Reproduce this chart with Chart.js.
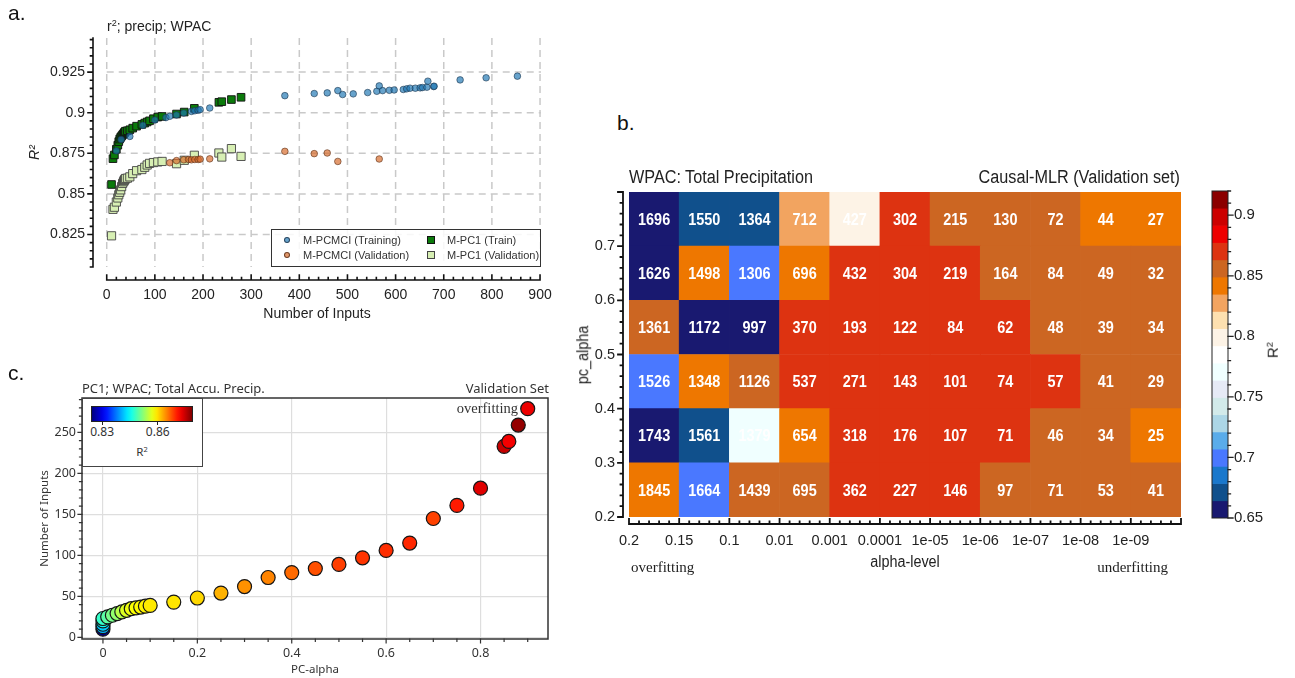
<!DOCTYPE html>
<html><head><meta charset="utf-8">
<script src="https://cdn.jsdelivr.net/npm/chart.js@4.4.1/dist/chart.umd.min.js"></script>
<style>
html,body{margin:0;padding:0;background:#fff}
body{width:1295px;height:678px;position:relative;overflow:hidden}
canvas{position:absolute}
.t{position:absolute;white-space:nowrap;line-height:1.1}
.t sup{font-size:65%;vertical-align:0.55em;line-height:0}
</style></head><body>
<canvas id="cb" width="640" height="440" style="left:560px;top:150px"></canvas>
<canvas id="cbar" width="115" height="440" style="left:1180px;top:150px"></canvas>
<canvas id="ca" width="580" height="330" style="left:0;top:0"></canvas>
<canvas id="cc" width="560" height="318" style="left:0;top:360px"></canvas>
<script>
// ---------------- DATA ----------------
// Panel a: M-PCMCI
const pcmciTrainInputs = [20, 30, 48, 75, 100, 123, 131, 145, 160, 176, 183, 190, 194, 214, 370, 431, 458, 480, 490, 512, 542, 561, 566, 573, 587, 597, 616, 623, 630, 641, 651, 656, 665, 667, 679, 680, 734, 788, 853];
const pcmciTrainR2 = [0.8765, 0.8835, 0.8854, 0.8922, 0.8955, 0.8970, 0.8978, 0.8986, 0.8998, 0.9008, 0.9012, 0.9015, 0.9019, 0.9029, 0.9105, 0.9118, 0.9122, 0.9136, 0.9112, 0.9116, 0.9124, 0.9132, 0.9165, 0.9136, 0.9138, 0.9140, 0.9143, 0.9147, 0.9151, 0.9151, 0.9153, 0.9155, 0.9157, 0.9194, 0.9161, 0.9163, 0.9202, 0.9215, 0.9225];
const pcmciValInputs = [131, 145, 160, 170, 176, 183, 190, 194, 214, 370, 431, 458, 480, 566];
const pcmciValR2 = [0.8692, 0.8705, 0.8710, 0.8712, 0.8710, 0.8712, 0.8712, 0.8714, 0.8716, 0.8762, 0.8748, 0.8752, 0.8700, 0.8715];
// Panel a + c: M-PC1
const pc1Alpha = [0, 0, 0, 0, 0, 0.01, 0.02, 0.03, 0.04, 0.05, 0.06, 0.07, 0.08, 0.09, 0.1, 0.15, 0.2, 0.25, 0.3, 0.35, 0.4, 0.45, 0.5, 0.55, 0.6, 0.65, 0.7, 0.75, 0.8, 0.85, 0.86, 0.88, 0.9];
const pc1Inputs = [10, 13, 16, 20, 23, 25, 27, 29, 31, 33, 35, 36, 37, 38, 39, 43, 48, 54, 62, 73, 79, 84, 89, 97, 106, 115, 145, 161, 182, 233, 239, 259, 279];
const pc1TrainR2 = [0.8558, 0.8717, 0.8740, 0.8775, 0.8800, 0.8822, 0.8838, 0.8848, 0.8856, 0.8864, 0.8870, 0.8874, 0.8878, 0.8882, 0.8886, 0.8889, 0.8895, 0.8905, 0.8917, 0.8928, 0.8936, 0.8943, 0.8950, 0.8963, 0.8973, 0.8977, 0.8992, 0.9004, 0.9027, 0.9064, 0.9068, 0.9081, 0.9095];
const pc1ValR2 = [0.8242, 0.8405, 0.8418, 0.8450, 0.8475, 0.8495, 0.8510, 0.8525, 0.8545, 0.8565, 0.8575, 0.8582, 0.8586, 0.8590, 0.8595, 0.8597, 0.8605, 0.8625, 0.8643, 0.8650, 0.8664, 0.8678, 0.8688, 0.8693, 0.8697, 0.8700, 0.8686, 0.8707, 0.8738, 0.8752, 0.8727, 0.8779, 0.8731];
// Panel a ticks
const aXTicks = [0, 100, 200, 300, 400, 500, 600, 700, 800, 900];
const aXTickLabels = ['0', '100', '200', '300', '400', '500', '600', '700', '800', '900'];
const aYTicks = [0.825, 0.85, 0.875, 0.9, 0.925];
const aYTickLabels = ['0.825', '0.85', '0.875', '0.9', '0.925'];
// Panel b: heatmap
const alphaLevelLabels = ['0.2', '0.15', '0.1', '0.01', '0.001', '0.0001', '1e-05', '1e-06', '1e-07', '1e-08', '1e-09', ''];
const pcAlphaEdges = [0.8, 0.7, 0.6, 0.5, 0.4, 0.3, 0.2];
const pcAlphaTickLabels = ['0.2', '0.3', '0.4', '0.5', '0.6', '0.7'];
const inputCounts = [
  [1696, 1550, 1364, 712, 427, 302, 215, 130, 72, 44, 27],
  [1626, 1498, 1306, 696, 432, 304, 219, 164, 84, 49, 32],
  [1361, 1172, 997, 370, 193, 122, 84, 62, 48, 39, 34],
  [1526, 1348, 1126, 537, 271, 143, 101, 74, 57, 41, 29],
  [1743, 1561, 1379, 654, 318, 176, 107, 71, 46, 34, 25],
  [1845, 1664, 1439, 695, 362, 227, 146, 97, 71, 53, 41]
];
const cellR2 = [
  [0.657, 0.671, 0.671, 0.828, 0.799, 0.870, 0.856, 0.856, 0.856, 0.842, 0.842],
  [0.657, 0.842, 0.700, 0.842, 0.870, 0.870, 0.870, 0.856, 0.856, 0.856, 0.856],
  [0.856, 0.657, 0.657, 0.870, 0.870, 0.870, 0.870, 0.870, 0.856, 0.856, 0.856],
  [0.700, 0.842, 0.856, 0.870, 0.870, 0.870, 0.870, 0.870, 0.870, 0.856, 0.856],
  [0.657, 0.671, 0.771, 0.842, 0.870, 0.870, 0.870, 0.870, 0.856, 0.856, 0.842],
  [0.842, 0.700, 0.856, 0.856, 0.870, 0.870, 0.870, 0.856, 0.856, 0.856, 0.856]
];
// colour bar of panel b (from low to high)
const r2BandColors = ['#191970', '#10508c', '#1a78cc', '#4a78ff', '#5aacea', '#acd6e6', '#d2eaea', '#e6eaf6', '#f0ffff', '#ffffff', '#fdf3e6', '#fde0b0', '#f2a460', '#ee7700', '#cc6622', '#dd3311', '#ee0000', '#cc0000', '#8b0000'];
const r2BarMin = 0.65, r2BarMax = 0.92;
const r2BarTicks = [0.65, 0.7, 0.75, 0.8, 0.85, 0.9];
const r2BarTickLabels = ['0.65', '0.7', '0.75', '0.8', '0.85', '0.9'];
// Panel c ticks / colour range
const cXTicks = [0, 0.2, 0.4, 0.6, 0.8];
const cXTickLabels = ['0', '0.2', '0.4', '0.6', '0.8'];
const cYTicks = [0, 50, 100, 150, 200, 250];
const cYTickLabels = ['0', '50', '100', '150', '200', '250'];
const jetMin = 0.824, jetMax = 0.879;

// ---------------- HELPERS ----------------
const fA = "'Liberation Sans', Arial, sans-serif";
const fC = "'Noto Sans', 'Open Sans', sans-serif";
const fS = "'Liberation Serif', 'DejaVu Serif', serif";
function rng(a, b, s) { const o = []; for (let v = a; v <= b + s * 1e-6; v += s) o.push(+v.toFixed(6)); return o; }
function jet(v) {
  const t = Math.min(1, Math.max(0, (v - jetMin) / (jetMax - jetMin)));
  const c = f => Math.round(255 * Math.min(1, Math.max(0, f)));
  return `rgb(${c(1.5 - Math.abs(4 * t - 3))},${c(1.5 - Math.abs(4 * t - 2))},${c(1.5 - Math.abs(4 * t - 1))})`;
}
const bandW = (r2BarMax - r2BarMin) / r2BandColors.length;
function bandColor(v) {
  const k = Math.min(r2BandColors.length - 1, Math.max(0, Math.floor((v - r2BarMin) / bandW)));
  return r2BandColors[k];
}
function txt(html, x, y, o = {}) {
  const d = document.createElement('div'); d.className = 't'; d.innerHTML = html;
  d.style.left = x + 'px'; d.style.top = y + 'px';
  d.style.fontSize = (o.size || 14) + 'px'; d.style.fontFamily = o.family || fA; d.style.color = o.color || '#111';
  if (o.weight) d.style.fontWeight = o.weight;
  if (o.italic) d.style.fontStyle = 'italic';
  const ax = o.align === 'right' ? '-100%' : o.align === 'center' ? '-50%' : '0';
  d.style.transformOrigin = (o.align === 'right' ? 'right' : o.align === 'center' ? 'center' : 'left') + ' center';
  d.style.transform = `translate(${ax},-50%)` + (o.rot ? ` rotate(${o.rot}deg)` : '') + (o.sx ? ` scaleX(${o.sx})` : '');
  document.body.appendChild(d);
  return d;
}
function drawAxes(chart, axes) {
  const ctx = chart.ctx, ca = chart.chartArea;
  ctx.save(); ctx.setLineDash([]); ctx.lineCap = 'square';
  axes.forEach(a => {
    const s = chart.scales[a.scale];
    const p = v => s.getPixelForValue(v);
    ctx.strokeStyle = a.color || '#111'; ctx.lineWidth = a.width || 1.2;
    ctx.beginPath();
    if (a.side === 'bottom' || a.side === 'top') {
      const y0 = a.side === 'bottom' ? ca.bottom + (a.off || 0) : ca.top - (a.off || 0);
      const x1 = a.from == null ? ca.left : p(a.from), x2 = a.to == null ? ca.right : p(a.to);
      if (a.line !== false) { ctx.moveTo(x1, y0); ctx.lineTo(x2, y0); }
      const tk = (v, l) => { const x = p(v); ctx.moveTo(x, y0); ctx.lineTo(x, y0 + a.dir * l); };
      (a.minor || []).forEach(v => tk(v, a.minLen)); (a.major || []).forEach(v => tk(v, a.majLen));
    } else {
      const x0 = a.side === 'left' ? ca.left - (a.off || 0) : ca.right + (a.off || 0);
      const y1 = a.from == null ? ca.bottom : p(a.from), y2 = a.to == null ? ca.top : p(a.to);
      if (a.line !== false) { ctx.moveTo(x0, y1); ctx.lineTo(x0, y2); }
      const tk = (v, l) => { const y = p(v); ctx.moveTo(x0, y); ctx.lineTo(x0 + a.dir * l, y); };
      (a.minor || []).forEach(v => tk(v, a.minLen)); (a.major || []).forEach(v => tk(v, a.majLen));
    }
    ctx.stroke();
  });
  ctx.restore();
}
const base = { responsive: false, animation: false, devicePixelRatio: 1, events: [] };
const noLegend = { legend: { display: false }, tooltip: { enabled: false }, title: { display: false } };
const noGrid = { display: false, drawTicks: false, tickLength: 0 };

// ---------------- PANEL A ----------------
new Chart(document.getElementById('ca'), {
  type: 'scatter',
  data: { datasets: [
    { label: 'M-PCMCI (Training)', data: pcmciTrainInputs.map((x, i) => ({ x, y: pcmciTrainR2[i] })), pointStyle: 'circle', pointRadius: 3.3, backgroundColor: 'rgba(31,119,180,0.68)', borderColor: 'rgba(25,50,75,0.85)', borderWidth: 0.7 },
    { label: 'M-PCMCI (Validation)', data: pcmciValInputs.map((x, i) => ({ x, y: pcmciValR2[i] })), pointStyle: 'circle', pointRadius: 3.3, backgroundColor: 'rgba(214,104,40,0.68)', borderColor: 'rgba(90,45,20,0.85)', borderWidth: 0.7 },
    { label: 'M-PC1 (Train)', data: pc1Inputs.map((x, i) => ({ x, y: pc1TrainR2[i] })), pointStyle: 'rect', pointRadius: 5.4, backgroundColor: '#0b7a0b', borderColor: '#111', borderWidth: 0.9 },
    { label: 'M-PC1 (Validation)', data: pc1Inputs.map((x, i) => ({ x, y: pc1ValR2[i] })), pointStyle: 'rect', pointRadius: 5.8, backgroundColor: '#d7efb3', borderColor: '#444', borderWidth: 0.9 }
  ] },
  options: Object.assign({}, base, {
    layout: { padding: { left: 0, right: 39, top: 38, bottom: 0 } },
    plugins: noLegend,
    scales: {
      x: { type: 'linear', min: -28.5, max: 902,
        afterFit: s => { s.height = 63; },
        afterBuildTicks: s => { s.ticks = aXTicks.map(v => ({ value: v })); },
        grid: noGrid, border: { display: false },
        ticks: { padding: 20, autoSkip: false, maxRotation: 0, color: '#222', font: { family: fA, size: 14 }, callback: (v, i) => aXTickLabels[i] },
        title: { display: true, text: 'Number of Inputs', color: '#222', font: { family: fA, size: 14 }, padding: { top: 0, bottom: 7 } } },
      y: { type: 'linear', min: 0.805, max: 0.946,
        afterFit: s => { s.width = 93; },
        afterBuildTicks: s => { s.ticks = aYTicks.map(v => ({ value: v })); },
        grid: noGrid, border: { display: false },
        ticks: { padding: 8, autoSkip: false, color: '#222', font: { family: fA, size: 14 }, callback: (v, i) => aYTickLabels[i] },
        title: { display: true, text: 'R²', color: '#222', font: { family: fA, size: 14, style: 'italic' }, padding: { top: 27, bottom: 0 } } }
    }
  }),
  plugins: [{ id: 'aDeco',
    beforeDatasetsDraw(chart) {
      const ctx = chart.ctx, ca = chart.chartArea, xs = chart.scales.x, ys = chart.scales.y;
      ctx.save(); ctx.strokeStyle = '#c9c9c9'; ctx.lineWidth = 1.5; ctx.setLineDash([7, 5]);
      ctx.beginPath();
      aXTicks.forEach(v => { const x = xs.getPixelForValue(v); ctx.moveTo(x, ca.top); ctx.lineTo(x, ca.bottom); });
      aYTicks.forEach(v => { const y = ys.getPixelForValue(v); ctx.moveTo(xs.getPixelForValue(0), y); ctx.lineTo(ca.right, y); });
      ctx.stroke(); ctx.restore();
    },
    afterDraw(chart) {
      drawAxes(chart, [
        { scale: 'x', side: 'bottom', off: 13, from: 0, to: 900, major: aXTicks, minor: rng(0, 900, 20), majLen: 5, minLen: 2.5, dir: -1, width: 1.6, color: '#111' },
        { scale: 'y', side: 'left', off: 0, major: aYTicks, minor: rng(0.805, 0.945, 0.005), majLen: 5, minLen: 2.5, dir: -1, width: 1.6, color: '#111' }
      ]);
    } }]
});

// ---------------- PANEL C ----------------
new Chart(document.getElementById('cc'), {
  type: 'scatter',
  data: { datasets: [
    { label: 'PC1', data: pc1Alpha.map((x, i) => ({ x, y: pc1Inputs[i] })), pointStyle: 'circle', pointRadius: 7, backgroundColor: pc1ValR2.map(jet), borderColor: '#151515', borderWidth: 1.2 }
  ] },
  options: Object.assign({}, base, {
    layout: { padding: { left: 0, right: 12, top: 38, bottom: 0 } },
    plugins: noLegend,
    scales: {
      x: { type: 'linear', min: -0.0444, max: 0.943,
        afterFit: s => { s.height = 39; },
        afterBuildTicks: s => { s.ticks = cXTicks.map(v => ({ value: v })); },
        grid: { display: true, color: '#dedede', lineWidth: 1.2, drawTicks: false }, border: { display: false },
        ticks: { padding: 7, autoSkip: false, maxRotation: 0, color: '#333', font: { family: fC, size: 12.5 }, callback: (v, i) => cXTickLabels[i] },
        title: { display: true, text: 'PC-alpha', color: '#333', font: { family: fC, size: 11.5 }, padding: { top: 0, bottom: 1 } } },
      y: { type: 'linear', min: -2, max: 292,
        afterFit: s => { s.width = 82; },
        afterBuildTicks: s => { s.ticks = cYTicks.map(v => ({ value: v })); },
        grid: { display: true, color: '#dedede', lineWidth: 1.2, drawTicks: false }, border: { display: false },
        ticks: { padding: 6, autoSkip: false, color: '#333', font: { family: fC, size: 12.5 }, callback: (v, i) => cYTickLabels[i] },
        title: { display: true, text: 'Number of Inputs', color: '#333', font: { family: fC, size: 11.5 }, padding: { top: 38, bottom: 0 } } }
    }
  }),
  plugins: [{ id: 'cDeco',
    afterDatasetsDraw(chart) {
      const ctx = chart.ctx, ca = chart.chartArea;
      ctx.save(); ctx.strokeStyle = '#333'; ctx.lineWidth = 1.5;
      ctx.strokeRect(ca.left, ca.top, ca.right - ca.left, ca.bottom - ca.top); ctx.restore();
      drawAxes(chart, [
        { scale: 'x', side: 'bottom', off: 0, line: false, major: cXTicks, minor: rng(0, 0.9, 0.05), majLen: 4, minLen: 2.5, dir: 1, width: 1.2, color: '#333' },
        { scale: 'y', side: 'left', off: 0, line: false, major: cYTicks, minor: rng(0, 290, 10), majLen: 4, minLen: 2.5, dir: -1, width: 1.2, color: '#333' }
      ]);
    } }]
});

// ---------------- PANEL B: HEATMAP ----------------
const cells = [], cellColors = [], cellText = [];
inputCounts.forEach((row, r) => row.forEach((n, c) => {
  const lo = pcAlphaEdges[r + 1], hi = pcAlphaEdges[r];
  cells.push({ x: c + 0.5, y: [lo, hi] });
  cellColors.push(bandColor(cellR2[r][c]));
  cellText.push({ x: c + 0.5, y: (lo + hi) / 2, t: String(n) });
}));
new Chart(document.getElementById('cb'), {
  type: 'bar',
  data: { datasets: [{ label: 'R2', data: cells, backgroundColor: cellColors, borderWidth: 0, barPercentage: 1, categoryPercentage: 1 }] },
  options: Object.assign({}, base, {
    layout: { padding: { left: 0, right: 19, top: 42, bottom: 0 } },
    plugins: noLegend,
    scales: {
      x: { type: 'linear', min: 0, max: 11, offset: false,
        afterFit: s => { s.height = 73; },
        afterBuildTicks: s => { s.ticks = alphaLevelLabels.map((l, i) => ({ value: i })); },
        grid: Object.assign({ offset: false }, noGrid), border: { display: false },
        ticks: { padding: 15, autoSkip: false, maxRotation: 0, color: '#222', font: { family: fA, size: 14.5 }, callback: (v, i) => alphaLevelLabels[i] },
        title: { display: false } },
      y: { type: 'linear', min: 0.2, max: 0.8,
        afterFit: s => { s.width = 69; },
        afterBuildTicks: s => { s.ticks = pcAlphaTickLabels.map(l => ({ value: +l })); },
        grid: noGrid, border: { display: false },
        ticks: { padding: 14, autoSkip: false, color: '#222', font: { family: fA, size: 14.5 }, callback: (v, i) => pcAlphaTickLabels[i] },
        title: { display: false } }
    }
  }),
  plugins: [{ id: 'bDeco',
    afterDatasetsDraw(chart) {
      const ctx = chart.ctx, xs = chart.scales.x, ys = chart.scales.y;
      ctx.save(); ctx.fillStyle = '#fff'; ctx.textAlign = 'center'; ctx.textBaseline = 'middle';
      ctx.font = `bold 17px ${fA}`;
      cellText.forEach(c => {
        ctx.save();
        ctx.translate(xs.getPixelForValue(c.x), ys.getPixelForValue(c.y) + 1);
        ctx.scale(0.85, 1);
        ctx.fillText(c.t, 0, 0);
        ctx.restore();
      });
      ctx.restore();
      drawAxes(chart, [
        { scale: 'x', side: 'bottom', off: 7, from: 0, to: 11, major: rng(0, 11, 1), minor: rng(0, 11, 0.2), majLen: 5, minLen: 2.5, dir: -1, width: 1.8, color: '#111' },
        { scale: 'y', side: 'left', off: 6, from: 0.2, to: 0.8, major: rng(0.2, 0.8, 0.1), minor: rng(0.2, 0.8, 0.02), majLen: 5, minLen: 2.5, dir: -1, width: 1.8, color: '#111' }
      ]);
    } }]
});

// ---------------- PANEL B: COLOUR BAR ----------------
new Chart(document.getElementById('cbar'), {
  type: 'bar',
  data: { datasets: [{ label: 'bar', data: r2BandColors.map((c, k) => ({ x: 0.5, y: [r2BarMin + k * bandW, r2BarMin + (k + 1) * bandW] })), backgroundColor: r2BandColors, borderWidth: 0, barPercentage: 1, categoryPercentage: 1 }] },
  options: Object.assign({}, base, {
    layout: { padding: { left: 32, right: 27, top: 41, bottom: 72 } },
    plugins: noLegend,
    scales: {
      x: { type: 'linear', min: 0, max: 1, offset: false, display: false,
        afterBuildTicks: s => { s.ticks = [{ value: 0 }, { value: 1 }]; }, grid: { display: false, offset: false } },
      y: { type: 'linear', position: 'right', min: r2BarMin, max: r2BarMax,
        afterFit: s => { s.width = 40; },
        afterBuildTicks: s => { s.ticks = r2BarTicks.map(v => ({ value: v })); },
        grid: noGrid, border: { display: false },
        ticks: { padding: 6, autoSkip: false, color: '#222', font: { family: fA, size: 15 }, callback: (v, i) => r2BarTickLabels[i] } }
    }
  }),
  plugins: [{ id: 'barDeco',
    afterDatasetsDraw(chart) {
      const ctx = chart.ctx, ca = chart.chartArea;
      ctx.save(); ctx.strokeStyle = '#222'; ctx.lineWidth = 1;
      ctx.strokeRect(ca.left, ca.top, ca.right - ca.left, ca.bottom - ca.top); ctx.restore();
      drawAxes(chart, [
        { scale: 'y', side: 'right', off: 0, line: false, major: r2BarTicks, minor: rng(0.65, 0.92, 0.01), majLen: 5, minLen: 2.5, dir: 1, width: 1.3, color: '#222' }
      ]);
    } }]
});

// ---------------- TEXT ----------------
txt('a.', 8, 13, { size: 21 });
txt('r<sup>2</sup>; precip; WPAC', 107, 27, { size: 14, color: '#222' });
txt('b.', 617, 123, { size: 21 });
txt('WPAC: Total Precipitation', 629, 178, { size: 18, color: '#222', sx: 0.9 });
txt('Causal-MLR (Validation set)', 1180, 178, { size: 18, color: '#222', align: 'right', sx: 0.9 });
txt('alpha-level', 905, 562, { size: 16, color: '#222', align: 'center', sx: 0.9 });
txt('pc_alpha', 583, 355, { size: 16, color: '#222', align: 'center', rot: -90, sx: 0.9 });
txt('overfitting', 631, 567, { size: 15, family: fS, color: '#222' });
txt('underfitting', 1168, 567, { size: 15, family: fS, color: '#222', align: 'right' });
txt('R<sup>2</sup>', 1273, 350, { size: 15, color: '#222', align: 'center', rot: -90 });
txt('c.', 8, 373, { size: 21 });
txt('PC1; WPAC; Total Accu. Precip.', 82, 388, { size: 13, family: fC, color: '#333' });
txt('Validation Set', 549, 388, { size: 13, family: fC, color: '#333', align: 'right' });
txt('overfitting', 518, 409, { size: 14.5, family: fS, color: '#333', align: 'right' });

// Legend of panel a
(function () {
  const box = document.createElement('div');
  Object.assign(box.style, { position: 'absolute', left: '271px', top: '229px', width: '270px', height: '38px', border: '1.5px solid #333', background: 'rgba(255,255,255,0.85)', boxSizing: 'border-box' });
  document.body.appendChild(box);
  const items = [
    { t: 'M-PCMCI (Training)', x: 287, y: 240, shape: 'c', fill: 'rgba(31,119,180,0.68)', edge: 'rgba(25,50,75,0.85)' },
    { t: 'M-PCMCI (Validation)', x: 287, y: 255, shape: 'c', fill: 'rgba(214,104,40,0.68)', edge: 'rgba(90,45,20,0.85)' },
    { t: 'M-PC1 (Train)', x: 431, y: 240, shape: 's', fill: '#0b7a0b', edge: '#111' },
    { t: 'M-PC1 (Validation)', x: 431, y: 255, shape: 's', fill: '#d7efb3', edge: '#444' }
  ];
  items.forEach(it => {
    const m = document.createElement('div');
    const sz = it.shape === 'c' ? 6.5 : 7.5;
    Object.assign(m.style, { position: 'absolute', left: (it.x - sz / 2) + 'px', top: (it.y - sz / 2) + 'px', width: sz + 'px', height: sz + 'px', background: it.fill, border: '0.8px solid ' + it.edge, borderRadius: it.shape === 'c' ? '50%' : '0', boxSizing: 'border-box' });
    document.body.appendChild(m);
    txt(it.t, it.x + 16, it.y, { size: 11, color: '#333' });
  });
})();

// Inset colour bar of panel c
(function () {
  const box = document.createElement('div');
  Object.assign(box.style, { position: 'absolute', left: '82px', top: '398px', width: '121px', height: '69px', border: '1.5px solid #444', background: '#fff', boxSizing: 'border-box' });
  document.body.appendChild(box);
  const stops = [];
  for (let i = 0; i <= 20; i++) { const v = jetMin + (jetMax - jetMin) * i / 20; stops.push(jet(v) + ' ' + (i * 5) + '%'); }
  const g = document.createElement('div');
  Object.assign(g.style, { position: 'absolute', left: '91px', top: '406px', width: '102px', height: '16px', border: '1.2px solid #222', background: 'linear-gradient(to right,' + stops.join(',') + ')', boxSizing: 'border-box' });
  document.body.appendChild(g);
  [[0.83, '0.83'], [0.86, '0.86']].forEach(([v, l]) => {
    const x = 91 + (v - jetMin) / (jetMax - jetMin) * 102;
    const tk = document.createElement('div');
    Object.assign(tk.style, { position: 'absolute', left: (x - 0.6) + 'px', top: '422px', width: '1.2px', height: '3px', background: '#222' });
    document.body.appendChild(tk);
    txt(l, x, 432, { size: 12, family: fC, color: '#333', align: 'center' });
  });
  txt('R<sup>2</sup>', 142, 452, { size: 11.5, family: fC, color: '#333', align: 'center' });
})();
</script>
</body></html>
